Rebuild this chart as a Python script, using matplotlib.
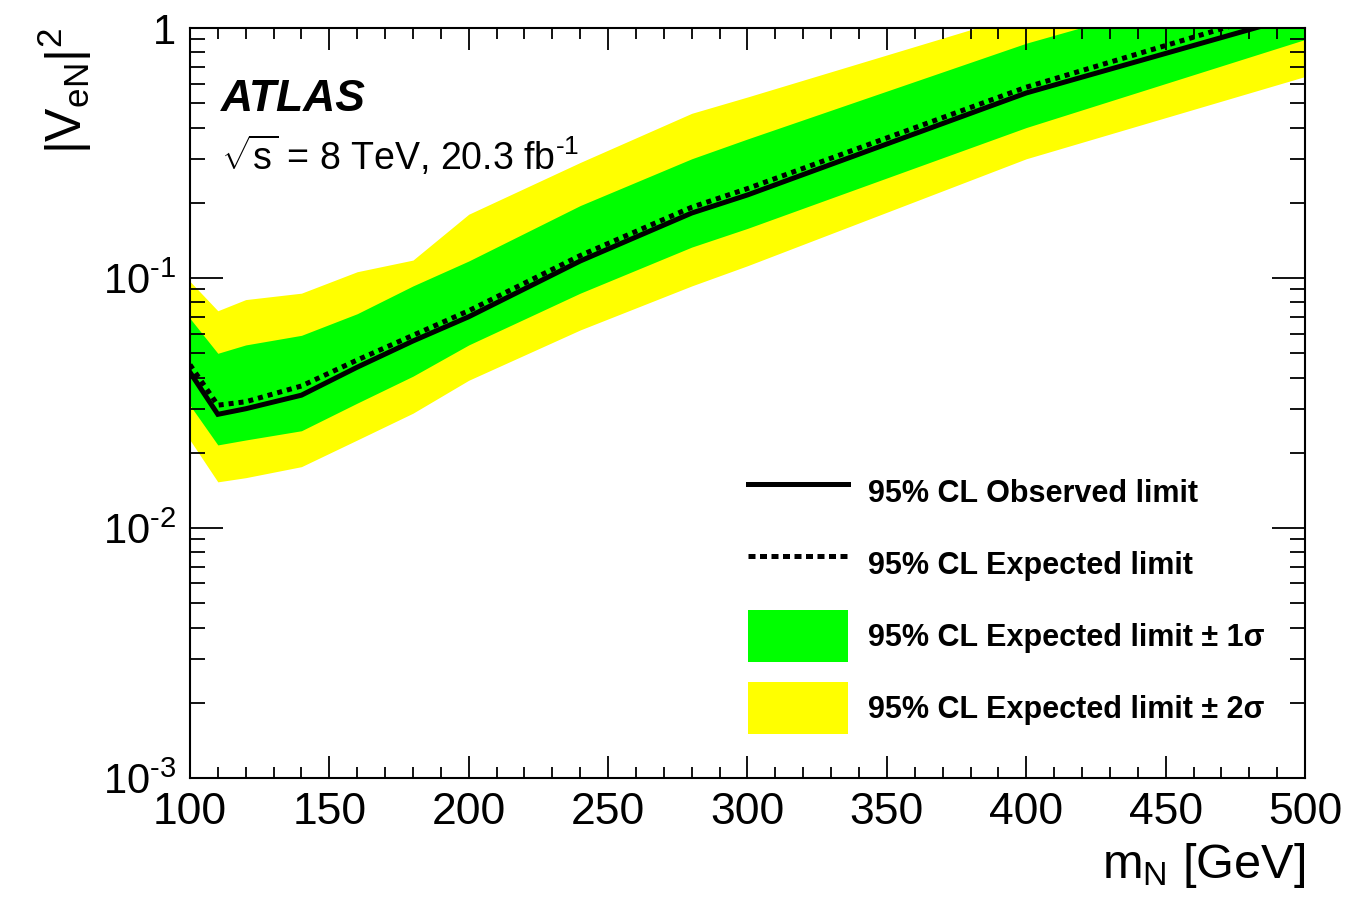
"""ATLAS heavy neutrino |V_eN|^2 exclusion limit vs m_N."""
import matplotlib

matplotlib.use("Agg")
import matplotlib.pyplot as plt  # noqa: E402
from matplotlib.lines import Line2D  # noqa: E402
from matplotlib.patches import Patch  # noqa: E402
from matplotlib.ticker import FixedLocator, LogLocator, MultipleLocator, NullFormatter  # noqa: E402

plt.rcParams["font.family"] = ["Liberation Sans", "DejaVu Sans"]
plt.rcParams["mathtext.fontset"] = "custom"
plt.rcParams["mathtext.rm"] = "Liberation Sans"
plt.rcParams["mathtext.it"] = "Liberation Sans:italic"

# values
mass = [100, 110, 120, 140, 160, 180, 200, 240, 280, 300, 400, 500]
observed = [0.042, 0.0285, 0.030, 0.034, 0.044, 0.056, 0.070, 0.117, 0.182, 0.215, 0.55, 1.14]
expected = [0.045, 0.031, 0.032, 0.037, 0.047, 0.059, 0.074, 0.123, 0.192, 0.228, 0.58, 1.25]
one_sig_lo = [0.031, 0.0215, 0.0225, 0.0245, 0.0316, 0.0405, 0.054, 0.087, 0.133, 0.158, 0.40, 0.90]
one_sig_hi = [0.069, 0.050, 0.054, 0.059, 0.072, 0.093, 0.117, 0.195, 0.30, 0.36, 0.87, 1.8]
two_sig_lo = [0.0225, 0.0153, 0.0159, 0.0176, 0.0225, 0.0288, 0.039, 0.062, 0.093, 0.112, 0.30, 0.64]
two_sig_hi = [0.097, 0.074, 0.082, 0.087, 0.106, 0.118, 0.18, 0.29, 0.456, 0.53, 1.15, 2.4]
y_ticks = [1e-3, 1e-2, 1e-1, 1]
y_tick_labels = [r"$10^{\text{-}3}$", r"$10^{\text{-}2}$", r"$10^{\text{-}1}$", "1"]

fig = plt.figure(figsize=(13.5, 9.05), dpi=100)
ax = fig.add_axes([0.1407, 0.1403, 0.8260, 0.8287])

ax.fill_between(mass, two_sig_lo, two_sig_hi, color="#ffff00", lw=0)
ax.fill_between(mass, one_sig_lo, one_sig_hi, color="#00ff00", lw=0)
ax.plot(mass, observed, color="black", lw=3.6, solid_joinstyle="miter")
ax.plot(mass, expected, color="black", lw=3.6, dashes=(1.0, 1.0))

ax.set_yscale("log")
ax.set_xlim(100, 500)
ax.set_ylim(1e-3, 1)

ax.xaxis.set_major_locator(MultipleLocator(50))
ax.xaxis.set_minor_locator(MultipleLocator(10))
ax.yaxis.set_major_locator(FixedLocator(y_ticks))
ax.yaxis.set_minor_locator(LogLocator(base=10, subs=range(2, 10)))
ax.yaxis.set_minor_formatter(NullFormatter())
ax.set_yticklabels(y_tick_labels)
ax.tick_params(which="both", direction="in", top=True, right=True, width=1.3)
ax.tick_params(axis="x", which="major", length=16, pad=10, labelsize=32)
ax.tick_params(axis="x", which="minor", length=8)
ax.tick_params(axis="y", which="major", length=24, pad=10, labelsize=30)
ax.tick_params(axis="y", which="minor", length=11)
for s in ax.spines.values():
    s.set_linewidth(1.5)

ax.set_xlabel(r"m$_{\rm N}$ [GeV]", fontsize=35, loc="right", labelpad=6)
ax.set_ylabel(r"|V$_{\rm eN}$|$^{2}$", fontsize=36, loc="top", labelpad=6)

ax.text(0.028, 0.905, "ATLAS", transform=ax.transAxes, fontsize=32,
        fontweight="bold", fontstyle="italic", va="center")
ax.text(0.028, 0.83, r"$\sqrt{\rm s}$ = 8 TeV, 20.3 fb$^{\text{-}1}$", transform=ax.transAxes,
        fontsize=27, va="center")

handles = [
    Line2D([], [], color="black", lw=3.6),
    Line2D([], [], color="black", lw=3.6, dashes=(1.4, 0.9)),
    Patch(facecolor="#00ff00", edgecolor="none"),
    Patch(facecolor="#ffff00", edgecolor="none"),
]
labels = [
    "95% CL Observed limit",
    "95% CL Expected limit",
    "95% CL Expected limit ± 1σ",
    "95% CL Expected limit ± 2σ",
]
leg = ax.legend(handles, labels, loc="lower left", bbox_to_anchor=(0.5004, 0.0587),
                frameon=False, prop={"weight": "bold", "size": 22},
                handlelength=3.27, handleheight=2.24, labelspacing=0.65,
                handletextpad=0.65, borderpad=0, borderaxespad=0)

fig.savefig("out.png", dpi=100)
